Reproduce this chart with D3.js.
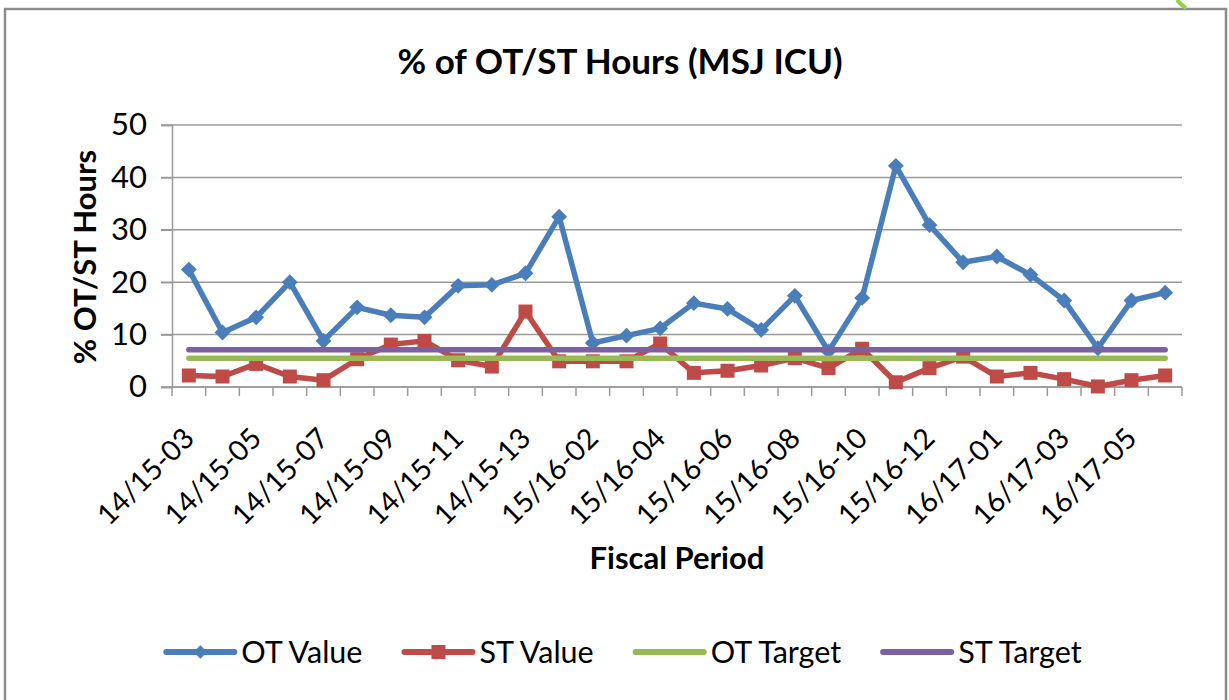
<!DOCTYPE html>
<html>
<head>
<meta charset="utf-8">
<script src="https://cdn.jsdelivr.net/npm/d3@7"></script>
<style>
body { margin: 0; background: #fff; }
text { font-family: Lato, "Open Sans", sans-serif; fill: #000; }
</style>
</head>
<body>
<div id="chart"></div>
<script>
// fiscal periods (13 per year), only every other one gets a label
var periods = ["14/15-03", "14/15-04", "14/15-05", "14/15-06", "14/15-07", "14/15-08",
    "14/15-09", "14/15-10", "14/15-11", "14/15-12", "14/15-13",
    "15/16-01", "15/16-02", "15/16-03", "15/16-04", "15/16-05", "15/16-06", "15/16-07",
    "15/16-08", "15/16-09", "15/16-10", "15/16-11", "15/16-12", "15/16-13",
    "16/17-01", "16/17-02", "16/17-03", "16/17-04", "16/17-05", "16/17-06"];

var otValue = [22.4, 10.4, 13.3, 20.0, 8.8, 15.2, 13.7, 13.3, 19.3, 19.5, 21.7,
    32.5, 8.4, 9.8, 11.2, 16.0, 14.9, 10.9, 17.4, 6.8, 17.0, 42.2, 30.9, 23.8,
    24.9, 21.4, 16.5, 7.4, 16.5, 18.0];
var stValue = [2.2, 2.0, 4.4, 2.0, 1.3, 5.3, 8.1, 8.8, 5.1, 3.9, 14.4,
    4.9, 4.9, 4.9, 8.3, 2.7, 3.1, 4.1, 5.5, 3.6, 7.3, 0.9, 3.6, 5.8,
    2.0, 2.7, 1.5, 0.1, 1.3, 2.2];
var otTarget = 5.5;
var stTarget = 7.1;

var yTicks = [0, 10, 20, 30, 40, 50];
var seriesNames = ["OT Value", "ST Value", "OT Target", "ST Target"];
var seriesColors = ["#4a7ebb", "#be4b48", "#98b954", "#7d60a0"];

var width = 1229;
var height = 700;
var plotLeft = 172, plotRight = 1182, plotTop = 125, plotBottom = 387;

var svg = d3.select("#chart")
    .append("svg")
    .attr("width", width)
    .attr("height", height);

// chart area border (bottom edge is cut off in the picture)
svg.append("path")
    .attr("d", "M5,700V9H1226V700")
    .attr("fill", "none")
    .attr("stroke", "#8c8c8c")
    .attr("stroke-width", 2.5);

// little green stroke peeking in at the top right
svg.append("path")
    .attr("d", "M1177,0 Q1181,5 1186,8")
    .attr("fill", "none")
    .attr("stroke", "#8ed34a")
    .attr("stroke-width", 4);

var x = d3.scaleBand()
    .domain(periods)
    .range([plotLeft, plotRight]);

var y = d3.scaleLinear()
    .domain([0, 50])
    .range([plotBottom, plotTop]);

function cx(d, i) { return x(periods[i]) + x.bandwidth() / 2; }

// horizontal gridlines
svg.append("g")
    .selectAll("line")
    .data(yTicks)
    .enter()
    .append("line")
    .attr("x1", plotLeft - 11)
    .attr("x2", plotRight)
    .attr("y1", function(d) { return y(d); })
    .attr("y2", function(d) { return y(d); })
    .attr("stroke", "#9a9a9a")
    .attr("stroke-width", 1.5);

// y axis
var yAxis = svg.append("g")
    .attr("transform", "translate(" + plotLeft + ",0)")
    .call(d3.axisLeft(y).tickValues(yTicks).tickSize(11).tickPadding(14));
yAxis.selectAll("path, line").attr("stroke", "#9a9a9a").attr("stroke-width", 1.5);
yAxis.selectAll("text")
    .style("font-family", "Lato, sans-serif")
    .style("font-size", "31px")
    .attr("fill", "#000");

// x axis line with ticks between categories
svg.append("line")
    .attr("x1", plotLeft).attr("x2", plotRight)
    .attr("y1", plotBottom).attr("y2", plotBottom)
    .attr("stroke", "#9a9a9a").attr("stroke-width", 1.5);

svg.append("g")
    .selectAll("line")
    .data(periods.concat(["end"]))
    .enter()
    .append("line")
    .attr("x1", function(d) { return d == "end" ? plotRight : x(d); })
    .attr("x2", function(d) { return d == "end" ? plotRight : x(d); })
    .attr("y1", plotBottom)
    .attr("y2", plotBottom + 9)
    .attr("stroke", "#9a9a9a")
    .attr("stroke-width", 1.5);

// rotated category labels, every other period
svg.append("g")
    .selectAll("text")
    .data(periods.filter(function(d, i) { return i % 2 == 0; }))
    .enter()
    .append("text")
    .attr("transform", function(d) {
        return "translate(" + (x(d) + x.bandwidth() / 2 + 7) + "," + (plotBottom + 53) + ") rotate(-45)";
    })
    .style("text-anchor", "end")
    .style("font-size", "28.5px")
    .text(function(d) { return d; });

// titles
svg.append("text")
    .attr("x", 620)
    .attr("y", 74)
    .style("text-anchor", "middle")
    .style("font-size", "35px")
    .style("font-weight", "bold")
    .text("% of OT/ST Hours (MSJ ICU)");

svg.append("text")
    .attr("transform", "translate(96," + ((plotTop + plotBottom) / 2 + 1) + ") rotate(-90)")
    .style("text-anchor", "middle")
    .style("font-size", "31px")
    .style("font-weight", "bold")
    .text("% OT/ST Hours");

svg.append("text")
    .attr("x", (plotLeft + plotRight) / 2)
    .attr("y", 569)
    .style("text-anchor", "middle")
    .style("font-size", "31px")
    .style("font-weight", "bold")
    .text("Fiscal Period");

// series lines
var line = d3.line()
    .x(cx)
    .y(function(d) { return y(d); });

var otTargetRow = periods.map(function() { return otTarget; });
var stTargetRow = periods.map(function() { return stTarget; });
var allSeries = [otValue, stValue, otTargetRow, stTargetRow];

allSeries.forEach(function(values, k) {
    svg.append("path")
        .datum(values)
        .attr("d", line)
        .attr("fill", "none")
        .attr("stroke", seriesColors[k])
        .attr("stroke-width", 5.5)
        .attr("stroke-linejoin", "round")
        .attr("stroke-linecap", "round");

    if (k == 0) {
        svg.append("g")
            .selectAll("path")
            .data(values)
            .enter()
            .append("path")
            .attr("d", d3.symbol().type(d3.symbolDiamond2).size(160))
            .attr("transform", function(d, i) { return "translate(" + cx(d, i) + "," + y(d) + ")"; })
            .attr("fill", seriesColors[k]);
    }
    if (k == 1) {
        svg.append("g")
            .selectAll("rect")
            .data(values)
            .enter()
            .append("rect")
            .attr("x", function(d, i) { return cx(d, i) - 7; })
            .attr("y", function(d) { return y(d) - 7; })
            .attr("width", 14)
            .attr("height", 14)
            .attr("fill", seriesColors[k]);
    }
});

// legend
var legend = svg.append("g");
var lx = 0;
seriesNames.forEach(function(name, k) {
    var item = legend.append("g").attr("transform", "translate(" + lx + ",0)");
    item.append("line")
        .attr("x1", 0).attr("x2", 68)
        .attr("y1", 0).attr("y2", 0)
        .attr("stroke", seriesColors[k])
        .attr("stroke-width", 6)
        .attr("stroke-linecap", "round");
    if (k == 0) {
        item.append("path")
            .attr("d", d3.symbol().type(d3.symbolDiamond2).size(120))
            .attr("transform", "translate(34,0)")
            .attr("fill", seriesColors[k]);
    }
    if (k == 1) {
        item.append("rect")
            .attr("x", 27).attr("y", -7)
            .attr("width", 14).attr("height", 14)
            .attr("fill", seriesColors[k]);
    }
    var t = item.append("text")
        .attr("x", 75)
        .attr("y", 11)
        .style("font-size", "30.5px")
        .text(name);
    lx += 75 + t.node().getComputedTextLength() + 42;
});
lx -= 42;
legend.attr("transform", "translate(" + (624 - lx / 2) + ",652)");
</script>
</body>
</html>
